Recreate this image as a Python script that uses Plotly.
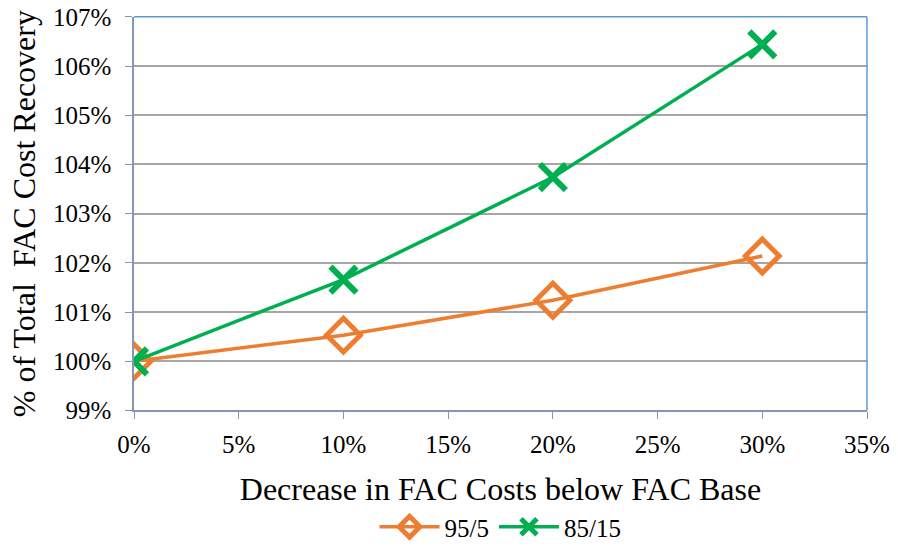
import plotly.graph_objects as go

x_vals = [0, 0.10, 0.20, 0.30]
s1_name = "95/5"
s1_vals = [1.000, 1.0053, 1.0124, 1.0214]
s2_name = "85/15"
s2_vals = [1.000, 1.0166, 1.0374, 1.0644]

x_ticks = [0, 0.05, 0.10, 0.15, 0.20, 0.25, 0.30, 0.35]
y_ticks = [0.99, 1.00, 1.01, 1.02, 1.03, 1.04, 1.05, 1.06, 1.07]

font = "Liberation Serif"
W, H = 898, 550
left, right, top, bottom = 134, 867, 17, 415
legend_y = 533

fig = go.Figure()
fig.add_trace(go.Scatter(
    x=x_vals, y=s1_vals, name=s1_name, mode="lines+markers",
    line=dict(color="#ED7D31", width=3.5),
    marker=dict(symbol="diamond-open", size=26, color="#ED7D31", line=dict(width=5, color="#ED7D31")),
))
fig.add_trace(go.Scatter(
    x=x_vals, y=s2_vals, name=s2_name, mode="lines+markers",
    line=dict(color="#00B050", width=3.5),
    marker=dict(symbol="x-thin-open", size=26, color="#00B050", line=dict(width=6, color="#00B050")),
))

fig.update_layout(
    width=W, height=H,
    margin=dict(l=0, r=0, t=0, b=0),
    paper_bgcolor="white", plot_bgcolor="white",
    font=dict(family=font, size=25, color="black"),
    showlegend=True,
    legend=dict(orientation="h", x=(left + right) / 2 / W, xanchor="center",
                y=(H - legend_y) / H, yanchor="middle",
                font=dict(size=25, family=font), itemwidth=60),
    xaxis=dict(
        domain=[left / W, right / W],
        range=[0, 0.35], tickvals=x_ticks, tickformat=".0%",
        showgrid=False, zeroline=False, automargin=False,
        showline=True, linecolor="#8497B0", linewidth=1.5,
        ticks="outside", ticklen=7, tickcolor="#8497B0",
        ticklabelstandoff=4, ticklabeloverflow="allow",
        tickfont=dict(size=25, family=font),
        title=dict(text="Decrease in FAC Costs below FAC Base", font=dict(size=32, family=font), standoff=20),
    ),
    yaxis=dict(
        domain=[(H - bottom) / H, (H - top) / H],
        range=[0.99, 1.07], tickvals=y_ticks, tickformat=".0%",
        showgrid=True, gridcolor="#A6A6A6", gridwidth=1.5, zeroline=False, automargin=False,
        showline=True, linecolor="#8497B0", linewidth=1.5,
        ticks="outside", ticklen=7, tickcolor="#8497B0",
        ticklabelstandoff=9, ticklabeloverflow="allow",
        tickfont=dict(size=25, family=font),
        title=dict(text="% of Total  FAC Cost Recovery", font=dict(size=32, family=font), standoff=8),
    ),
    shapes=[
        dict(type="line", xref="paper", yref="paper", x0=left / W, x1=right / W,
             y0=(H - top) / H, y1=(H - top) / H, line=dict(color="#5B9BD5", width=1.5)),
        dict(type="line", xref="paper", yref="paper", x0=right / W, x1=right / W,
             y0=(H - bottom) / H, y1=(H - top) / H, line=dict(color="#5B9BD5", width=1.5)),
    ],
)

fig.write_html("out.html", config={"displayModeBar": False},
               post_script="document.body.style.margin='0';document.body.style.overflow='hidden';")
